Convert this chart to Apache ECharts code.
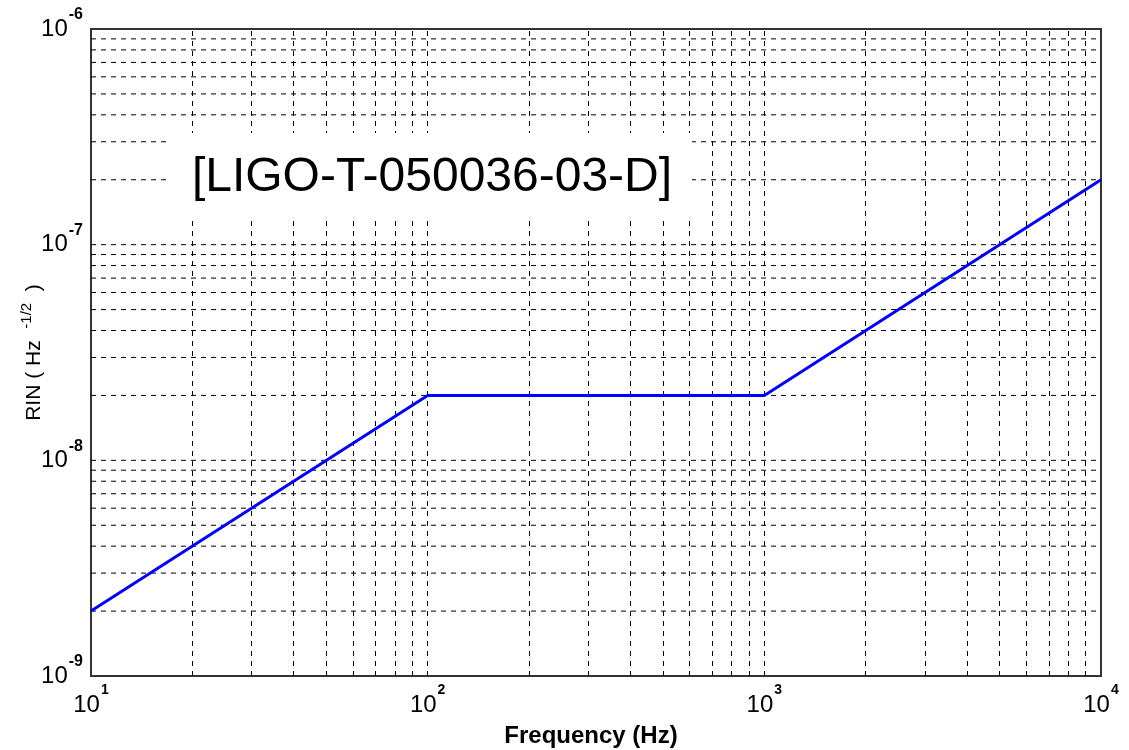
<!DOCTYPE html>
<html>
<head>
<meta charset="utf-8">
<script src="https://cdn.jsdelivr.net/npm/echarts@6/dist/echarts.min.js"></script>
<style>
  html, body { margin: 0; padding: 0; background: #fff; }
  #main { width: 1129px; height: 750px; }
</style>
</head>
<body>
<div id="main"></div>
<script>
// 数据
var freq = [10, 100, 1000, 10000];
var rin = [2e-9, 2e-8, 2e-8, 2e-7];
// 网格线所在的十进位
var xDecades = [10, 100, 1000];
var yDecades = [1e-9, 1e-8, 1e-7];
var docId = '[LIGO-T-050036-03-D]';

var FONT = 'Liberation Sans, Arial, Helvetica, sans-serif';
var dash = { color: '#000', width: 1, type: [5, 5] };

// 竖向虚线网格 (主+次)
var xGrid = [];
xDecades.forEach(function (d) {
  for (var k = 1; k <= 9; k++) {
    var v = d * k;
    if (v > 10 && v < 10000) xGrid.push({ xAxis: v });
  }
});
// 横向虚线网格
var yGrid = [];
yDecades.forEach(function (d) {
  for (var k = 1; k <= 9; k++) {
    var v = d * k;
    if (v > 1e-9 * 1.01 && v < 1e-6 * 0.99) yGrid.push(v);
  }
});

function powLabel(value) {
  var e = Math.round(Math.log10(value));
  return '{b|10}{e|' + e + '}';
}

function richFor(expSize) {
  return {
    b: { fontSize: 24, fontFamily: FONT, color: '#000', verticalAlign: 'middle' },
    e: { fontSize: expSize, fontWeight: 'bold', fontFamily: FONT, color: '#000', lineHeight: 44, verticalAlign: 'top', padding: [0, 0, 0, 1] }
  };
}

var series = [
  {
    name: 'xgrid',
    type: 'line',
    data: [],
    z: 1,
    silent: true,
    markLine: {
      silent: true,
      symbol: ['none', 'none'],
      label: { show: false },
      emphasis: { disabled: true },
      lineStyle: dash,
      data: xGrid
    }
  }
];
yGrid.forEach(function (v) {
  series.push({
    type: 'line',
    z: 1,
    silent: true,
    symbol: 'none',
    lineStyle: dash,
    data: [[10, v], [10000, v]]
  });
});
series.push({
  name: 'RIN',
  type: 'line',
  z: 5,
  symbol: 'none',
  lineStyle: { color: '#0000ff', width: 3 },
  data: freq.map(function (f, i) { return [f, rin[i]]; })
});

var chart = echarts.init(document.getElementById('main'));
var option = {
  backgroundColor: '#fff',
  animation: false,
  grid: {
    left: 91, right: 28, top: 29, bottom: 74,
    outerBoundsMode: 'none',
    containLabel: false,
    show: true,
    borderColor: '#333',
    borderWidth: 2
  },
  xAxis: {
    type: 'log',
    logBase: 10,
    min: 10,
    max: 10000,
    name: 'Frequency (Hz)',
    nameLocation: 'middle',
    nameGap: 48,
    nameMoveOverlap: false,
    nameTextStyle: { fontSize: 24, fontWeight: 'bold', fontFamily: FONT, color: '#000', verticalAlign: 'top', padding: [0, 10, 0, 0] },
    axisLine: { show: true, lineStyle: { color: '#333', width: 2 } },
    axisTick: { show: false },
    splitLine: { show: false },
    axisLabel: { margin: 7, formatter: powLabel, rich: richFor(14) }
  },
  yAxis: {
    type: 'log',
    logBase: 10,
    min: 1e-9,
    max: 1e-6,
    name: '{n|RIN ( Hz  }{s|-1/2}{n|  )}',
    nameLocation: 'middle',
    nameGap: 42,
    nameMoveOverlap: false,
    nameTextStyle: {
      rich: {
        n: { fontSize: 21, fontFamily: FONT, color: '#000', verticalAlign: 'middle' },
        s: { fontSize: 15, fontFamily: FONT, color: '#000', lineHeight: 30, verticalAlign: 'top' }
      }
    },
    axisLine: { show: true, lineStyle: { color: '#333', width: 2 } },
    axisTick: { show: false },
    splitLine: { show: false },
    axisLabel: { margin: 8, formatter: powLabel, rich: richFor(16) }
  },
  graphic: [
    {
      type: 'rect',
      z: 50,
      shape: { x: 171, y: 133, width: 521, height: 84 },
      style: { fill: '#fff' }
    },
    {
      type: 'text',
      z: 51,
      x: 432,
      y: 178,
      style: {
        text: docId,
        fontSize: 48,
        fontFamily: FONT,
        fill: '#000',
        textAlign: 'center',
        textVerticalAlign: 'middle'
      }
    }
  ],
  series: series
};
chart.setOption(option);

window.addEventListener('resize', function () {
  chart.resize();
});
</script>
</body>
</html>
